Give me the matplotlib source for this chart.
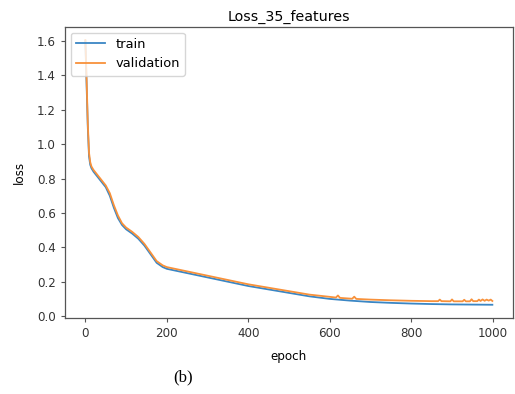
import matplotlib
matplotlib.use("Agg")
import matplotlib.pyplot as plt

train_epochs = [0, 3, 6, 9, 12, 15, 20, 30, 40, 50, 60, 70, 80, 90, 100, 115, 130, 145,
                160, 175, 190, 200, 250, 300, 350, 400, 450, 500, 550, 600, 650, 700,
                750, 800, 850, 900, 950, 999]
train_loss = [1.60, 1.35, 1.10, 0.93, 0.88, 0.86, 0.84, 0.81, 0.78, 0.75, 0.70, 0.63,
              0.57, 0.53, 0.505, 0.48, 0.45, 0.41, 0.36, 0.31, 0.285, 0.275, 0.25,
              0.225, 0.20, 0.175, 0.155, 0.135, 0.115, 0.10, 0.09, 0.082, 0.077,
              0.073, 0.070, 0.068, 0.067, 0.066]

val_epochs = [0, 3, 6, 9, 12, 15, 20, 30, 40, 50, 60, 70, 80, 90, 100, 115, 130, 145,
              160, 175, 190, 200, 250, 300, 350, 400, 450, 500, 550, 600, 615, 620,
              625, 655, 660, 665, 700, 750, 800, 850, 866, 870, 874, 896, 900, 904,
              926, 930, 934, 944, 948, 952, 962, 966, 970, 975, 980, 985, 990, 995, 999]
val_loss = [1.606, 1.38, 1.12, 0.95, 0.895, 0.87, 0.85, 0.82, 0.79, 0.76, 0.715, 0.645,
            0.585, 0.54, 0.515, 0.49, 0.46, 0.42, 0.37, 0.32, 0.295, 0.285, 0.26,
            0.235, 0.21, 0.185, 0.165, 0.145, 0.125, 0.112, 0.108, 0.12, 0.106,
            0.101, 0.113, 0.100, 0.096, 0.092, 0.089, 0.087, 0.087, 0.096, 0.087,
            0.086, 0.097, 0.086, 0.086, 0.095, 0.086, 0.086, 0.098, 0.087, 0.087,
            0.096, 0.088, 0.097, 0.089, 0.096, 0.090, 0.096, 0.088]

fig = plt.figure(figsize=(5.15, 3.94), dpi=100)
ax = fig.add_axes([65 / 515, 1 - 318 / 394, (512.7 - 65) / 515, (318 - 26.7) / 394])

ax.plot(train_epochs, train_loss, color="#3a86c4", lw=1.3, label="train")
ax.plot(val_epochs, val_loss, color="#f8913a", lw=1.3, label="validation")

ax.set_title("Loss_35_features", fontsize=10.3, pad=4)
ax.set_xlabel("epoch", fontsize=8.6, labelpad=7)
ax.set_ylabel("loss", fontsize=8.6, labelpad=8)
ax.tick_params(labelsize=8.6, length=3, width=0.8, color="#555555", labelcolor="#333333")
for s in ax.spines.values():
    s.set_color("#555555")
    s.set_linewidth(0.9)
ax.set_yticks([0.0, 0.2, 0.4, 0.6, 0.8, 1.0, 1.2, 1.4, 1.6])
ax.set_xticks([0, 200, 400, 600, 800, 1000])
ax.legend(loc="upper left", fontsize=9.4, borderaxespad=0.45, handlelength=2.2)

fig.text(183 / 515, 1 - 377 / 394, "(b)", family="Liberation Serif", fontsize=12,
         ha="center", va="center")

fig.savefig("out.png", dpi=100)
